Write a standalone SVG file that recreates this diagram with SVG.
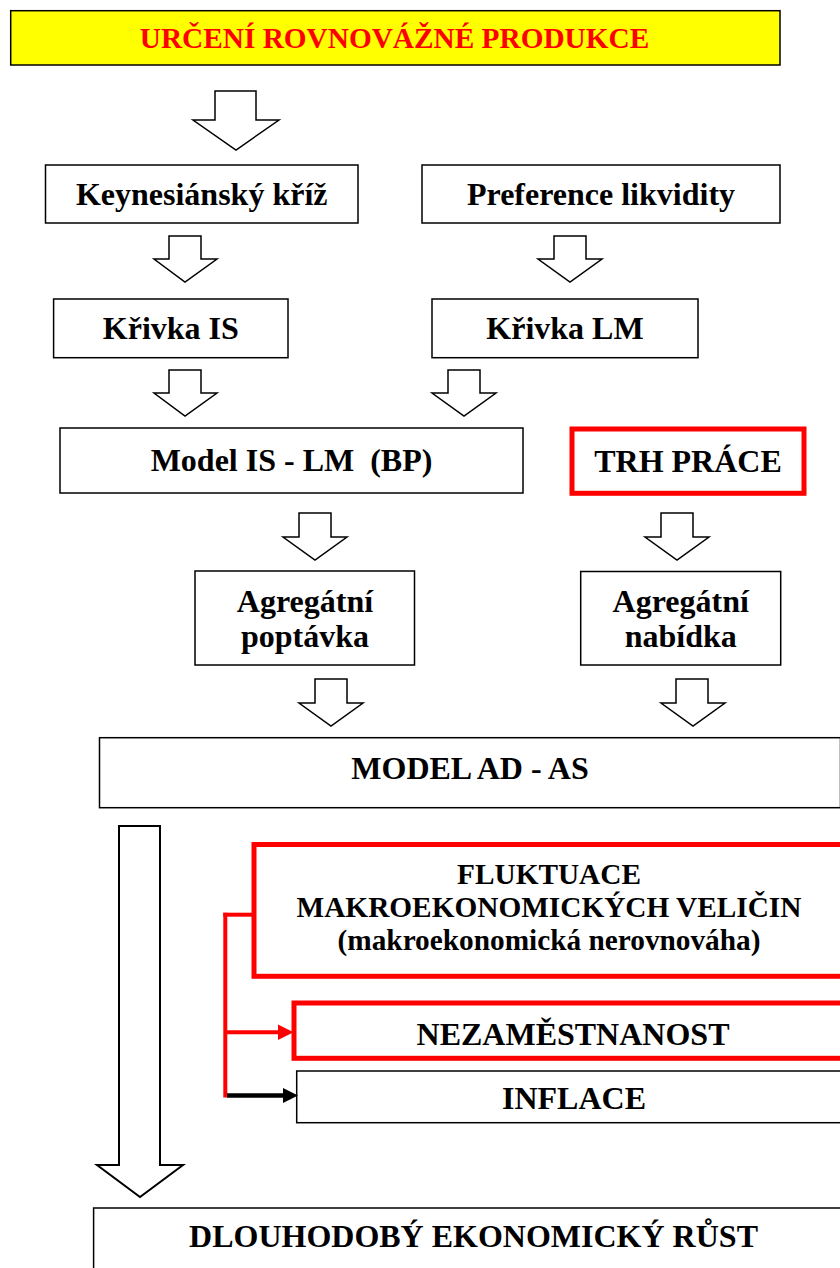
<svg xmlns="http://www.w3.org/2000/svg" width="840" height="1268" viewBox="0 0 840 1268">
<style>
  .box { fill: #ffffff; stroke: #000000; stroke-width: 1.5; }
  .rbox { fill: #ffffff; stroke: #ff0000; stroke-width: 5; }
  .title { fill: #ffff00; stroke: #000000; stroke-width: 1.5; }
  .t { font-family: "Liberation Serif", "Times New Roman", serif; font-weight: bold; font-size: 32px; fill: #000000; text-anchor: middle; }
  .ts { font-size: 29.3px; }
  .red { fill: #ff0000; }
  .barrow { fill: #ffffff; stroke: #000000; stroke-width: 1.5; stroke-linejoin: miter; }
  .rline { stroke: #ff0000; stroke-width: 4; fill: none; }
  .kline { stroke: #000000; stroke-width: 4.5; fill: none; }
</style>
<rect x="0" y="0" width="840" height="1268" fill="#ffffff"/>

<g id="n-title">
  <rect class="title" x="10.7" y="10.7" width="769.3" height="54.3"/>
  <text class="t ts red" x="394.5" y="47.5">URČENÍ ROVNOVÁŽNÉ PRODUKCE</text>
</g>
<g id="n-keynes">
  <rect class="box" x="45.5" y="165" width="312.5" height="58"/>
  <text class="t" x="201.7" y="205">Keynesiánský kříž</text>
</g>
<g id="n-pref">
  <rect class="box" x="422" y="165" width="358" height="58"/>
  <text class="t" x="601" y="205">Preference likvidity</text>
</g>
<g id="n-is">
  <rect class="box" x="53.6" y="299" width="234.4" height="58.7"/>
  <text class="t" x="170.8" y="339">Křivka IS</text>
</g>
<g id="n-lm">
  <rect class="box" x="432" y="299" width="266" height="58.7"/>
  <text class="t" x="565" y="339">Křivka LM</text>
</g>
<g id="n-islm">
  <rect class="box" x="60" y="428" width="463" height="65"/>
  <text class="t" x="291.5" y="471" xml:space="preserve">Model IS - LM  (BP)</text>
</g>
<g id="n-trh">
  <rect class="rbox" x="572" y="429" width="232" height="64.3"/>
  <text class="t" x="688" y="471.7">TRH PRÁCE</text>
</g>
<g id="n-ad">
  <rect class="box" x="195" y="571" width="219.5" height="94"/>
  <text class="t" x="305" y="611.5">Agregátní</text>
  <text class="t" x="305" y="647">poptávka</text>
</g>
<g id="n-as">
  <rect class="box" x="580.7" y="571.5" width="200" height="93.5"/>
  <text class="t" x="680.7" y="611.5">Agregátní</text>
  <text class="t" x="680.7" y="647">nabídka</text>
</g>
<g id="n-adas">
  <rect class="box" x="99.5" y="737.7" width="741" height="70"/>
  <text class="t" x="470" y="779">MODEL AD - AS</text>
</g>
<g id="n-fluk">
  <rect class="rbox" x="254" y="844.5" width="600" height="131.8"/>
  <text class="t ts" x="549" y="884">FLUKTUACE</text>
  <text class="t ts" x="549" y="917">MAKROEKONOMICKÝCH VELIČIN</text>
  <text class="t ts" x="549" y="950">(makroekonomická nerovnováha)</text>
</g>
<g id="n-nezam">
  <rect class="rbox" x="294" y="1003" width="560" height="55.3"/>
  <text class="t" x="573" y="1045">NEZAMĚSTNANOST</text>
</g>
<g id="n-infl">
  <rect class="box" x="296.7" y="1071" width="560" height="51.7"/>
  <text class="t" x="574" y="1109">INFLACE</text>
</g>
<g id="n-rust">
  <rect class="box" x="93.6" y="1208" width="760" height="80"/>
  <text class="t" x="473.5" y="1247">DLOUHODOBÝ EKONOMICKÝ RŮST</text>
</g>

<g id="connectors">
  <path class="barrow" d="M215,91 H256 V120 H279 L236,150 L193,120 H215 Z"/>
  <path class="barrow" d="M169,236 H201 V259 H217 L185,282 L154,259 H169 Z"/>
  <path class="barrow" d="M554,236 H586 V259 H602 L570,282 L538,259 H554 Z"/>
  <path class="barrow" d="M169,370 H201 V393 H217 L185,416 L154,393 H169 Z"/>
  <path class="barrow" d="M448,370 H480 V393 H496 L464,416 L432,393 H448 Z"/>
  <path class="barrow" d="M299,513 H331 V537 H347 L315,560 L283,537 H299 Z"/>
  <path class="barrow" d="M661,513 H693 V537 H709 L677,560 L645,537 H661 Z"/>
  <path class="barrow" d="M315,679 H347 V703 H363 L331,726 L299,703 H315 Z"/>
  <path class="barrow" d="M676,679 H708 V703 H725 L693,726 L661,703 H676 Z"/>
  <path class="barrow" style="stroke-width:2" d="M119,826 H160 V1165 H183 L140,1197 L97,1165 H119 Z"/>

  <line class="rline" x1="225.3" y1="912.7" x2="225.3" y2="1097.5"/>
  <line class="rline" x1="223.3" y1="914.7" x2="254" y2="914.7"/>
  <line class="rline" x1="225.3" y1="1032.3" x2="280" y2="1032.3"/>
  <polygon fill="#ff0000" points="278,1024.5 293.5,1032.3 278,1040"/>
  <line class="kline" x1="227" y1="1095.5" x2="285" y2="1095.5"/>
  <polygon fill="#000000" points="283,1088 298,1095.5 283,1103"/>
</g>
</svg>
